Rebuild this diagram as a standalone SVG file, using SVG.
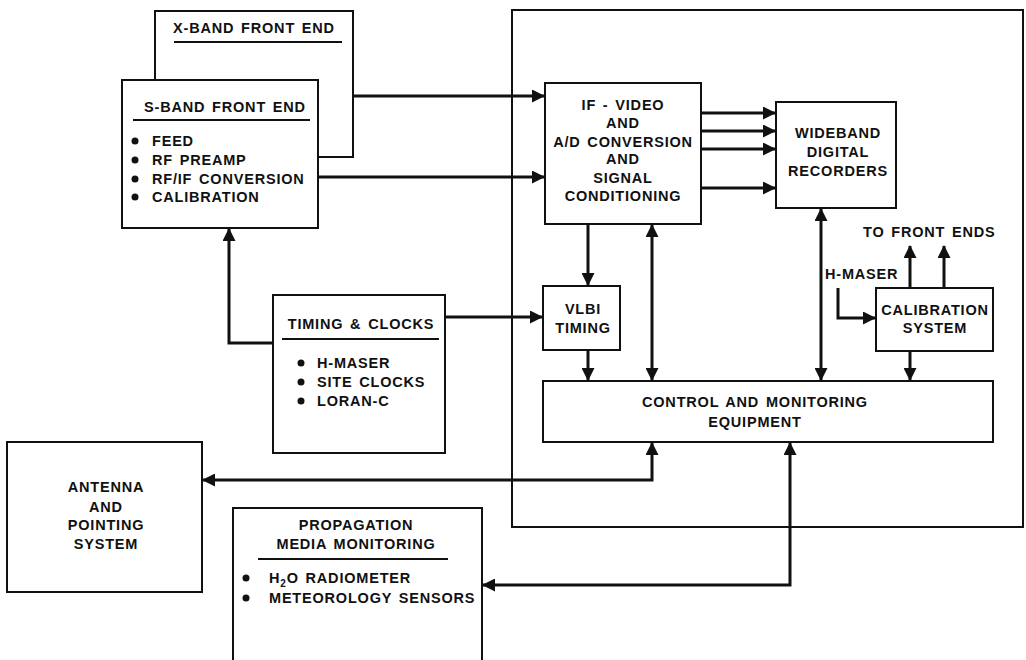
<svg xmlns="http://www.w3.org/2000/svg" width="1026" height="660" viewBox="0 0 1026 660">
<defs>
<style>
.box{fill:#fff;stroke:#111;stroke-width:2}
.frame{fill:none;stroke:#111;stroke-width:2}
.rule{stroke:#111;stroke-width:2}
.t{font-family:"Liberation Sans",Arial,sans-serif;font-weight:bold;font-size:14.5px;letter-spacing:0.8px;word-spacing:2px;fill:#111}
.c{text-anchor:middle}
.dot{fill:#111}
.conn{fill:none;stroke:#111;stroke-width:3;stroke-linejoin:miter}
</style>
<marker id="ah" markerWidth="13" markerHeight="13" refX="12" refY="6.5" orient="auto-start-reverse" markerUnits="userSpaceOnUse">
<path d="M0,0 L13,6.5 L0,13 Z" fill="#111"/>
</marker>
</defs>
<rect width="1026" height="660" fill="#fff"/>

<g id="outer-frame">
<rect class="frame" x="512" y="10" width="511" height="517"/>
</g>

<g id="connectors">
<path class="conn" d="M353,96 H544" marker-end="url(#ah)"/>
<path class="conn" d="M318,177 H544" marker-end="url(#ah)"/>
<path class="conn" d="M701,113 H775" marker-end="url(#ah)"/>
<path class="conn" d="M701,131 H775" marker-end="url(#ah)"/>
<path class="conn" d="M701,149 H775" marker-end="url(#ah)"/>
<path class="conn" d="M701,188 H775" marker-end="url(#ah)"/>
<path class="conn" d="M273,343 H229 V229" marker-end="url(#ah)"/>
<path class="conn" d="M445,317 H542" marker-end="url(#ah)"/>
<path class="conn" d="M588,225 V285" marker-end="url(#ah)"/>
<path class="conn" d="M588,351 V380" marker-end="url(#ah)"/>
<path class="conn" d="M652,225 V380" marker-start="url(#ah)" marker-end="url(#ah)"/>
<path class="conn" d="M821,209 V380" marker-start="url(#ah)" marker-end="url(#ah)"/>
<path class="conn" d="M910,352 V380" marker-end="url(#ah)"/>
<path class="conn" d="M910,287 V246" marker-end="url(#ah)"/>
<path class="conn" d="M944,287 V246" marker-end="url(#ah)"/>
<path class="conn" d="M838,288 V318 H875" marker-end="url(#ah)"/>
<path class="conn" d="M652,443 V480 H203" marker-start="url(#ah)" marker-end="url(#ah)"/>
<path class="conn" d="M790,443 V585 H483" marker-start="url(#ah)" marker-end="url(#ah)"/>
</g>

<g id="x-band">
<rect class="box" x="155" y="11" width="198" height="146"/>
<text class="t c" x="254" y="33">X-BAND FRONT END</text>
<line class="rule" x1="174" y1="42" x2="342" y2="42"/>
</g>

<g id="s-band">
<rect class="box" x="122" y="80" width="196" height="148"/>
<text class="t c" x="225" y="112">S-BAND FRONT END</text>
<line class="rule" x1="133" y1="120" x2="310" y2="120"/>
<circle class="dot" cx="135" cy="141" r="3.5"/>
<circle class="dot" cx="135" cy="160" r="3.5"/>
<circle class="dot" cx="135" cy="179" r="3.5"/>
<circle class="dot" cx="135" cy="197" r="3.5"/>
<text class="t" x="152" y="146">FEED</text>
<text class="t" x="152" y="165">RF PREAMP</text>
<text class="t" x="152" y="184">RF/IF CONVERSION</text>
<text class="t" x="152" y="202">CALIBRATION</text>
</g>

<g id="if-video">
<rect class="box" x="545" y="83" width="156" height="141"/>
<text class="t c" x="623" y="110">IF - VIDEO</text>
<text class="t c" x="623" y="128">AND</text>
<text class="t c" x="623" y="147">A/D CONVERSION</text>
<text class="t c" x="623" y="164">AND</text>
<text class="t c" x="623" y="183">SIGNAL</text>
<text class="t c" x="623" y="201">CONDITIONING</text>
</g>

<g id="wideband">
<rect class="box" x="776" y="102" width="120" height="106"/>
<text class="t c" x="838" y="138">WIDEBAND</text>
<text class="t c" x="838" y="157">DIGITAL</text>
<text class="t c" x="838" y="176">RECORDERS</text>
</g>

<g id="timing-clocks">
<rect class="box" x="273" y="295" width="172" height="158"/>
<text class="t c" x="361" y="329">TIMING &amp; CLOCKS</text>
<line class="rule" x1="282" y1="339" x2="439" y2="339"/>
<circle class="dot" cx="301" cy="363" r="3.5"/>
<circle class="dot" cx="301" cy="382" r="3.5"/>
<circle class="dot" cx="301" cy="401" r="3.5"/>
<text class="t" x="317" y="368">H-MASER</text>
<text class="t" x="317" y="387">SITE CLOCKS</text>
<text class="t" x="317" y="406">LORAN-C</text>
</g>

<g id="vlbi-timing">
<rect class="box" x="543" y="286" width="77" height="64"/>
<text class="t c" x="583" y="314">VLBI</text>
<text class="t c" x="583" y="333">TIMING</text>
</g>

<g id="calibration">
<rect class="box" x="876" y="288" width="117" height="63"/>
<text class="t c" x="935" y="315">CALIBRATION</text>
<text class="t c" x="935" y="333">SYSTEM</text>
</g>

<g id="labels">
<text class="t" x="863" y="237">TO FRONT ENDS</text>
<text class="t" x="825" y="279">H-MASER</text>
</g>

<g id="control">
<rect class="box" x="543" y="381" width="450" height="61"/>
<text class="t c" x="755" y="407">CONTROL AND MONITORING</text>
<text class="t c" x="755" y="427">EQUIPMENT</text>
</g>

<g id="antenna">
<rect class="box" x="7" y="442" width="195" height="150"/>
<text class="t c" x="106" y="492">ANTENNA</text>
<text class="t c" x="106" y="512">AND</text>
<text class="t c" x="106" y="530">POINTING</text>
<text class="t c" x="106" y="549">SYSTEM</text>
</g>

<g id="propagation">
<rect class="box" x="233" y="508" width="249" height="162"/>
<text class="t c" x="356" y="530">PROPAGATION</text>
<text class="t c" x="356" y="549">MEDIA MONITORING</text>
<line class="rule" x1="258" y1="559" x2="448" y2="559"/>
<circle class="dot" cx="246" cy="578" r="3.5"/>
<circle class="dot" cx="246" cy="598" r="3.5"/>
<text class="t" x="269" y="583">H<tspan font-size="10" dy="4">2</tspan><tspan dy="-4">O RADIOMETER</tspan></text>
<text class="t" x="269" y="603">METEOROLOGY SENSORS</text>
</g>
</svg>
